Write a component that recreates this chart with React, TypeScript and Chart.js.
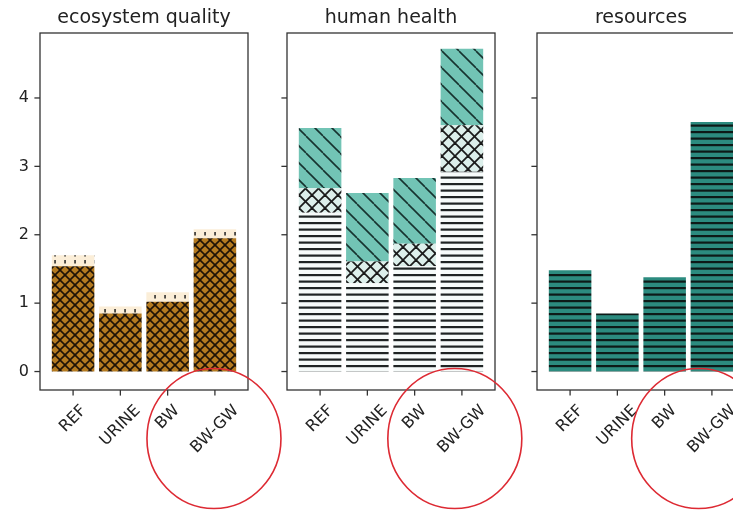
import { useEffect, useRef } from "react";
import { Chart, registerables } from "chart.js";
Chart.register(...registerables);

// ---- data ----
const categories = ["REF", "URINE", "BW", "BW-GW"];
const panelTitles = ["ecosystem quality", "human health", "resources"];
const yTickValues = [0, 1, 2, 3, 4];

// ecosystem quality (stacked)
const ecoBase = [1.54, 0.85, 1.02, 1.95];
const ecoTop = [0.16, 0.1, 0.14, 0.13];

// human health (stacked)
const hhLines = [2.32, 1.29, 1.54, 2.92];
const hhCross = [0.36, 0.32, 0.33, 0.68];
const hhDiag = [0.88, 1.0, 0.96, 1.12];

// resources
const resValues = [1.48, 0.85, 1.38, 3.65];

// red annotation circles (centre in axis units)
const circleX = [2.98, 2.85, 2.72];
const circleY = -0.98;

// ---- layout ----
const CW = 760;
const CH = 512;
const PANEL_LEFT = [40, 287, 537];
const PANEL_W = 208;
const TOP = 33;
const BOTTOM = 390;
const FONT = "'DejaVu Sans', sans-serif";

function makeTile(w: number, h: number, bg: string, draw: (c: CanvasRenderingContext2D) => void) {
  const cv = document.createElement("canvas");
  cv.width = w;
  cv.height = h;
  const c = cv.getContext("2d")!;
  c.fillStyle = bg;
  c.fillRect(0, 0, w, h);
  draw(c);
  const main = document.createElement("canvas").getContext("2d")!;
  return main.createPattern(cv, "repeat")!;
}

function diag(c: CanvasRenderingContext2D, s: number, dir: 1 | -1) {
  for (let k = -1; k <= 1; k++) {
    c.beginPath();
    if (dir === 1) {
      c.moveTo(k * s, 0);
      c.lineTo(k * s + s, s);
    } else {
      c.moveTo(k * s + s, 0);
      c.lineTo(k * s, s);
    }
    c.stroke();
  }
}

function crossPattern(s: number, bg: string, fg: string, lw: number) {
  return makeTile(s, s, bg, (c) => {
    c.strokeStyle = fg;
    c.lineWidth = lw;
    diag(c, s, 1);
    diag(c, s, -1);
  });
}

function backslashPattern(s: number, bg: string, fg: string, lw: number) {
  return makeTile(s, s, bg, (c) => {
    c.strokeStyle = fg;
    c.lineWidth = lw;
    diag(c, s, 1);
  });
}

function hLinesPattern(bg: string, fg: string) {
  return makeTile(8, 13, bg, (c) => {
    c.fillStyle = fg;
    c.fillRect(0, 1, 8, 2.2);
    c.fillRect(0, 7.5, 8, 2.2);
  });
}

function dashPattern(bg: string, fg: string) {
  return makeTile(10, 7, bg, (c) => {
    c.fillStyle = fg;
    c.fillRect(4.3, 1, 1.5, 3.5);
  });
}

const toPts = (arr: number[]) => arr.map((v, i) => ({ x: i, y: v }));

export default function App() {
  const r0 = useRef<HTMLCanvasElement>(null);
  const r1 = useRef<HTMLCanvasElement>(null);
  const r2 = useRef<HTMLCanvasElement>(null);

  useEffect(() => {
    const refs = [r0, r1, r2];
    const datasetsFor = (i: number) => {
      if (i === 0) {
        return [
          { data: toPts(ecoBase), backgroundColor: crossPattern(10, "#b47a20", "#1e1206", 1.6), stack: "s" },
          { data: toPts(ecoTop), backgroundColor: dashPattern("#fbeed8", "#222222"), stack: "s" },
        ];
      }
      if (i === 1) {
        return [
          { data: toPts(hhLines), backgroundColor: hLinesPattern("#f6fbfa", "#1f2424"), stack: "s" },
          { data: toPts(hhCross), backgroundColor: crossPattern(13, "#dcefeb", "#1a1a1a", 1.8), stack: "s" },
          { data: toPts(hhDiag), backgroundColor: backslashPattern(17, "#72c4b5", "#17332f", 1.6), stack: "s" },
        ];
      }
      return [{ data: toPts(resValues), backgroundColor: hLinesPattern("#2c8b7f", "#0d1a18"), stack: "s" }];
    };

    const charts = refs.map((ref, i) => {
      const decor = {
        id: "decor" + i,
        afterDraw(chart: any) {
          const ctx: CanvasRenderingContext2D = chart.ctx;
          const { left, right, top, bottom } = chart.chartArea;
          const xs = chart.scales.x;
          const ys = chart.scales.y;
          ctx.save();
          ctx.strokeStyle = "#333333";
          ctx.fillStyle = "#222222";
          ctx.lineWidth = 1.3;
          ctx.strokeRect(left, top, right - left, bottom - top);
          // y ticks
          ctx.font = `16px ${FONT}`;
          ctx.textAlign = "right";
          ctx.textBaseline = "middle";
          yTickValues.forEach((v) => {
            const py = ys.getPixelForValue(v);
            ctx.beginPath();
            ctx.moveTo(left - 5.6, py);
            ctx.lineTo(left, py);
            ctx.stroke();
            if (i === 0) ctx.fillText(String(v), left - 11, py);
          });
          // x ticks + rotated labels
          categories.forEach((cat, k) => {
            const px = xs.getPixelForValue(k);
            ctx.beginPath();
            ctx.moveTo(px, bottom);
            ctx.lineTo(px, bottom + 5.6);
            ctx.stroke();
            ctx.font = `16px ${FONT}`;
            const w = ctx.measureText(cat).width;
            const h = 18.7;
            const box = (w + h) * Math.SQRT1_2;
            const cy = bottom + 11.5 + box / 2;
            ctx.save();
            ctx.translate(px, cy);
            ctx.rotate(-Math.PI / 4);
            ctx.textAlign = "center";
            ctx.textBaseline = "middle";
            ctx.fillText(cat, 0, 0);
            ctx.restore();
          });
          // title
          ctx.font = `19px ${FONT}`;
          ctx.textAlign = "center";
          ctx.textBaseline = "alphabetic";
          ctx.fillText(panelTitles[i], (left + right) / 2, 23);
          // annotation circle
          ctx.strokeStyle = "#dd2a33";
          ctx.lineWidth = 1.6;
          ctx.beginPath();
          ctx.ellipse(xs.getPixelForValue(circleX[i]), ys.getPixelForValue(circleY), 67, 70, 0, 0, Math.PI * 2);
          ctx.stroke();
          ctx.restore();
        },
      };
      const L = PANEL_LEFT[i];
      return new Chart(ref.current!, {
        type: "bar",
        data: { datasets: datasetsFor(i) as any },
        options: {
          responsive: false,
          animation: false,
          devicePixelRatio: 1,
          layout: { padding: { left: L, right: CW - (L + PANEL_W), top: TOP, bottom: CH - BOTTOM } },
          plugins: { legend: { display: false }, tooltip: { enabled: false }, title: { display: false } },
          datasets: { bar: { barPercentage: 0.9, categoryPercentage: 1, borderWidth: 0 } },
          scales: {
            x: {
              type: "linear",
              min: -0.7,
              max: 3.7,
              offset: false,
              display: false,
              afterBuildTicks: (scale: any) => {
                scale.ticks = categories.map((_, k) => ({ value: k }));
              },
            },
            y: { type: "linear", min: -0.27, max: 4.95, stacked: true, display: false },
          },
        } as any,
        plugins: [decor],
      });
    });
    return () => charts.forEach((c) => c.destroy());
  }, []);

  const cs = { position: "absolute" as const, left: 0, top: 0 };
  return (
    <div style={{ position: "fixed", left: 0, top: 0, width: 733, height: 512, overflow: "hidden", background: "#fff" }}>
      <canvas ref={r0} width={CW} height={CH} style={cs} />
      <canvas ref={r1} width={CW} height={CH} style={cs} />
      <canvas ref={r2} width={CW} height={CH} style={cs} />
    </div>
  );
}
